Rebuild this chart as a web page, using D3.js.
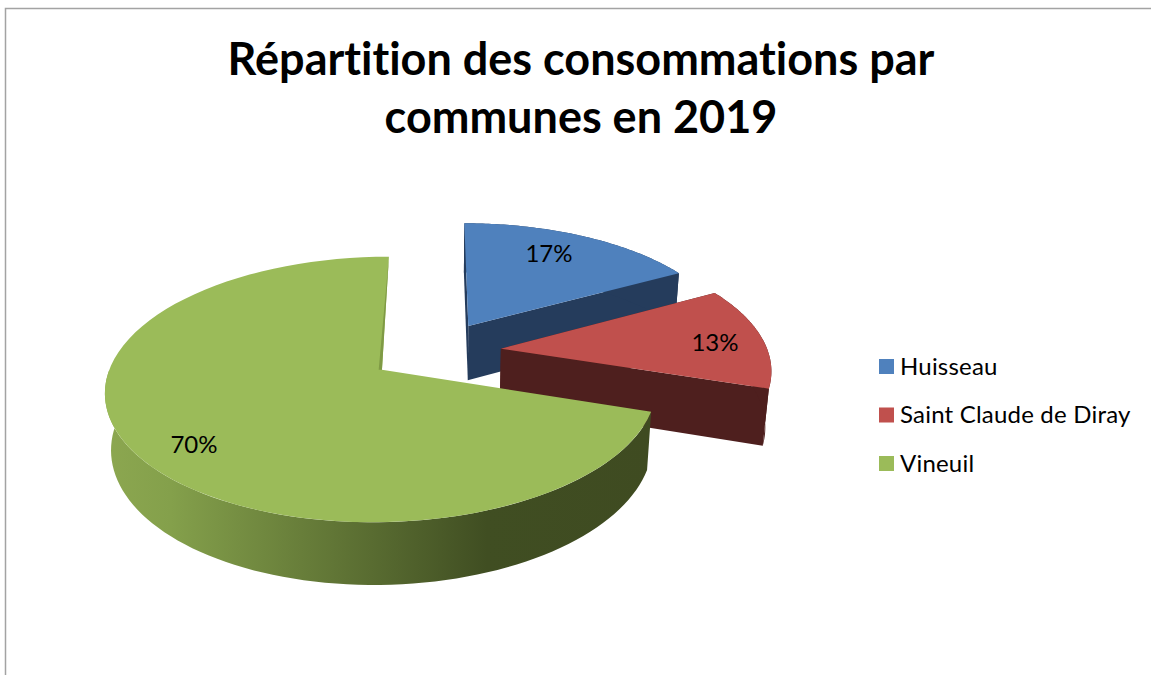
<!DOCTYPE html>
<html>
<head>
<meta charset="utf-8">
<script src="https://cdn.jsdelivr.net/npm/d3@7"></script>
<style>
  html, body { margin: 0; padding: 0; background: #fff; }
  svg { display: block; }
  text { font-family: Lato, "Open Sans", sans-serif; fill: #000; font-variant-ligatures: none; }
</style>
</head>
<body>
<div id="chart"></div>
<script>
const communes = ["Huisseau", "Saint Claude de Diray", "Vineuil"];
const shares = [17, 13, 70];
const titleLines = ["Répartition des consommations par", "communes en 2019"];

const topColors = ["#4f81bd", "#c0504d", "#9bbb59"];
const wallColors = ["#253c5c", "#4e1f1e", "#3f4b21"];

const widthSvg = 1151;
const heightSvg = 675;

// projection of the tilted pie, worked out from the apex of each slice
const cam = {cx: 436, cy: 351.5, a: 267, b: 124.5, k: 0.145, depth: 56.5, shrink: 0.018, explode: 0.245};

const svg = d3.select("#chart").append("svg")
    .attr("width", widthSvg)
    .attr("height", heightSvg);

// chart frame, only top and left show in the crop
svg.append("path")
    .attr("d", "M5.5,675V8.5H1151")
    .attr("fill", "none")
    .attr("stroke", "#a3a3a3")
    .attr("stroke-width", 1.5);

const title = svg.append("text")
    .attr("text-anchor", "middle")
    .attr("font-size", 45)
    .attr("font-weight", 700);
title.selectAll("tspan")
    .data(titleLines)
    .enter()
    .append("tspan")
    .attr("x", 581)
    .attr("y", function(d, i) { return 75 + i * 58; })
    .text(function(d) { return d; });

const defs = svg.append("defs");
const wallGrad = defs.append("linearGradient")
    .attr("id", "greenWall")
    .attr("gradientUnits", "userSpaceOnUse")
    .attr("x1", 105).attr("x2", 650)
    .attr("y1", 0).attr("y2", 0);
wallGrad.append("stop").attr("offset", "0%").attr("stop-color", "#8ca750");
wallGrad.append("stop").attr("offset", "12%").attr("stop-color", "#84a04b");
wallGrad.append("stop").attr("offset", "70%").attr("stop-color", "#404e22");
wallGrad.append("stop").attr("offset", "100%").attr("stop-color", "#3f4b21");

const pie = d3.pie().sort(null).value(function(d) { return d; });
const slices = pie(shares);

// slice-local polar point to screen; z = 0 top face, z = 1 bottom face
function project(slice, angle, r, z) {
  const mid = (slice.startAngle + slice.endAngle) / 2;
  const X = cam.explode * Math.sin(mid) + r * Math.sin(angle);
  const Y = cam.explode * Math.cos(mid) + r * Math.cos(angle);
  const w = 1 + cam.k * Y + cam.shrink * z;
  return [cam.cx + X * cam.a / w, cam.cy + (-Y * cam.b + z * cam.depth) / w];
}

const line = d3.line();

function arcPoints(slice, z, reverse, endAngle) {
  const n = 80;
  const t = d3.scaleLinear().domain([0, n]).range([slice.startAngle, endAngle]);
  const pts = d3.range(n + 1).map(function(i) { return project(slice, t(i), 1, z); });
  return reverse ? pts.reverse() : pts;
}

slices.forEach(function(slice, i) {
  const g = svg.append("g").attr("class", "slice");
  const wall = i === 2 ? "url(#greenWall)" : wallColors[i];
  // the back of the big slice must not stick out past its closing edge
  const wallEnd = i === 2 ? 1.5 * Math.PI : slice.endAngle;

  // the two straight walls, the big slice shows neither
  if (i !== 2) {
    [slice.startAngle, slice.endAngle].forEach(function(angle) {
      g.append("path")
          .attr("d", line([
            project(slice, angle, 0, 0),
            project(slice, angle, 1, 0),
            project(slice, angle, 1, 1),
            project(slice, angle, 0, 1)
          ]) + "Z")
          .attr("fill", wallColors[i]);
    });
  }

  // round wall
  g.append("path")
      .attr("d", line(arcPoints(slice, 0, false, wallEnd).concat(arcPoints(slice, 1, true, wallEnd))) + "Z")
      .attr("fill", wall);

  // top face
  g.append("path")
      .attr("d", line([project(slice, 0, 0, 0)].concat(arcPoints(slice, 0, false, slice.endAngle))) + "Z")
      .attr("fill", topColors[i]);
});

// thin darker sliver along the closing edge of the big slice
const last = slices[2];
svg.append("path")
    .attr("d", line([
      project(last, last.endAngle, 1, 0),
      project(last, last.endAngle, 0, 0),
      project(last, -Math.PI / 2, 0.012, 0)
    ]) + "Z")
    .attr("fill", "#7f9a45");

// percentage labels
const labelAt = [[549, 252], [715, 341], [194, 443]];
svg.selectAll(".pct")
    .data(shares)
    .enter()
    .append("text")
    .attr("class", "pct")
    .attr("x", function(d, i) { return labelAt[i][0]; })
    .attr("y", function(d, i) { return labelAt[i][1]; })
    .attr("text-anchor", "middle")
    .attr("dominant-baseline", "central")
    .attr("font-size", 24)
    .text(function(d) { return d + "%"; });

// legend
const legendY = d3.scalePoint().domain(communes).range([366.5, 463.5]);
const legend = svg.selectAll(".legend")
    .data(communes)
    .enter()
    .append("g")
    .attr("class", "legend")
    .attr("transform", function(d) { return "translate(879," + legendY(d) + ")"; });
legend.append("rect")
    .attr("y", -7.5)
    .attr("width", 15)
    .attr("height", 15)
    .attr("fill", function(d, i) { return topColors[i]; });
legend.append("text")
    .attr("x", 21)
    .attr("y", 8)
    .attr("font-size", 24)
    .attr("letter-spacing", 0.2)
    .text(function(d) { return d; });
</script>
</body>
</html>
